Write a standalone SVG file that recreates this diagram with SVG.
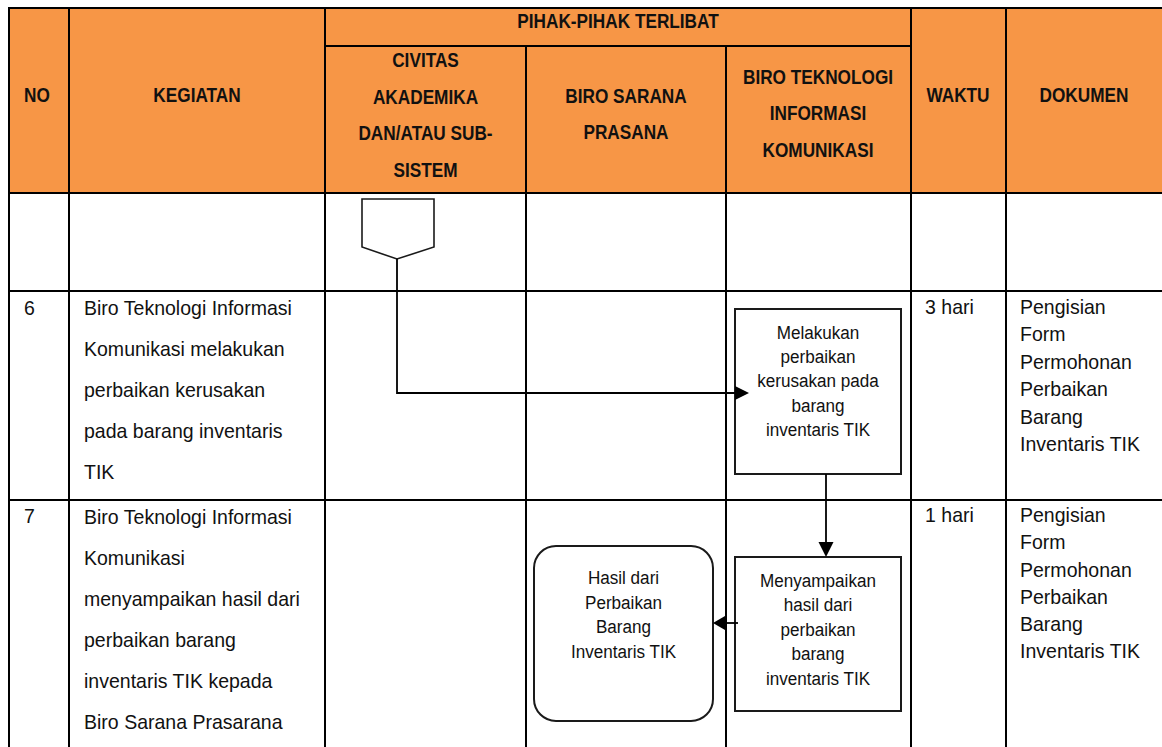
<svg xmlns="http://www.w3.org/2000/svg" width="1162" height="747" viewBox="0 0 1162 747">
<style>
.grid{stroke:#000;stroke-width:2;fill:none}
.hd{font-family:"Liberation Sans",Arial,sans-serif;font-weight:bold;font-size:21px;fill:#111}
.bd{font-family:"Liberation Sans",Arial,sans-serif;font-size:21px;fill:#111}
.nt{font-family:"Liberation Sans",Arial,sans-serif;font-size:19px;fill:#111}
.shape{fill:#fff;stroke:#1a1a1a;stroke-width:2}
.conn{stroke:#000;stroke-width:1.8;fill:none}
.head{fill:#000}
</style>
<rect x="0" y="0" width="1162" height="747" fill="#fff"/>
<g id="table">
<rect x="9" y="8" width="1153" height="185" fill="#F79646"/>
<path class="grid" d="M9 8H1162M325 46H911M9 193H1162M9 291H1162M9 500H1162M9 7V747M69 8V747M325 8V747M911 8V747M1006 8V747M526 46V747M726 46V747"/>
<g class="hd" text-anchor="middle">
<text transform="translate(618,28) scale(0.82,1)">PIHAK-PIHAK TERLIBAT</text>
<text transform="translate(37,102) scale(0.82,1)">NO</text>
<text transform="translate(197,102) scale(0.82,1)">KEGIATAN</text>
<text transform="translate(425.5,67) scale(0.82,1)"><tspan x="0">CIVITAS</tspan><tspan x="0" dy="36.7">AKADEMIKA</tspan><tspan x="0" dy="36.7">DAN/ATAU SUB-</tspan><tspan x="0" dy="36.7">SISTEM</tspan></text>
<text transform="translate(626,103) scale(0.82,1)"><tspan x="0">BIRO SARANA</tspan><tspan x="0" dy="36">PRASANA</tspan></text>
<text transform="translate(818,83.5) scale(0.82,1)"><tspan x="0">BIRO TEKNOLOGI</tspan><tspan x="0" dy="36.7">INFORMASI</tspan><tspan x="0" dy="36.7">KOMUNIKASI</tspan></text>
<text transform="translate(958,102) scale(0.82,1)">WAKTU</text>
<text transform="translate(1084,102) scale(0.82,1)">DOKUMEN</text>
</g>
<g class="bd">
<text transform="translate(24,315) scale(0.93,1)">6</text>
<text transform="translate(84,315) scale(0.93,1)"><tspan x="0">Biro Teknologi Informasi</tspan><tspan x="0" dy="41">Komunikasi melakukan</tspan><tspan x="0" dy="41">perbaikan kerusakan</tspan><tspan x="0" dy="41">pada barang inventaris</tspan><tspan x="0" dy="41">TIK</tspan></text>
<text transform="translate(925,314) scale(0.93,1)">3 hari</text>
<text transform="translate(1020,314) scale(0.93,1)"><tspan x="0">Pengisian</tspan><tspan x="0" dy="27.5">Form</tspan><tspan x="0" dy="27.5">Permohonan</tspan><tspan x="0" dy="27.5">Perbaikan</tspan><tspan x="0" dy="27.5">Barang</tspan><tspan x="0" dy="27.5">Inventaris TIK</tspan></text>
<text transform="translate(24,523) scale(0.93,1)">7</text>
<text transform="translate(84,524) scale(0.93,1)"><tspan x="0">Biro Teknologi Informasi</tspan><tspan x="0" dy="41">Komunikasi</tspan><tspan x="0" dy="41">menyampaikan hasil dari</tspan><tspan x="0" dy="41">perbaikan barang</tspan><tspan x="0" dy="41">inventaris TIK kepada</tspan><tspan x="0" dy="41">Biro Sarana Prasarana</tspan></text>
<text transform="translate(925,522) scale(0.93,1)">1 hari</text>
<text transform="translate(1020,522) scale(0.93,1)"><tspan x="0">Pengisian</tspan><tspan x="0" dy="27.3">Form</tspan><tspan x="0" dy="27.3">Permohonan</tspan><tspan x="0" dy="27.3">Perbaikan</tspan><tspan x="0" dy="27.3">Barang</tspan><tspan x="0" dy="27.3">Inventaris TIK</tspan></text>
</g>
</g>
<g id="offpage">
<polygon class="shape" style="stroke-width:1.6" points="362,199 434,199 434,247 397,259 362,247"/>
</g>
<g id="box-perbaikan">
<rect class="shape" x="735" y="309" width="166" height="165"/>
<text class="nt" text-anchor="middle" transform="translate(818,338.5) scale(0.9,1)"><tspan x="0">Melakukan</tspan><tspan x="0" dy="24.4">perbaikan</tspan><tspan x="0" dy="24.4">kerusakan pada</tspan><tspan x="0" dy="24.4">barang</tspan><tspan x="0" dy="24.4">inventaris TIK</tspan></text>
</g>
<g id="box-menyampaikan">
<rect class="shape" x="735" y="557" width="166" height="154"/>
<text class="nt" text-anchor="middle" transform="translate(818,587) scale(0.9,1)"><tspan x="0">Menyampaikan</tspan><tspan x="0" dy="24.5">hasil dari</tspan><tspan x="0" dy="24.5">perbaikan</tspan><tspan x="0" dy="24.5">barang</tspan><tspan x="0" dy="24.5">inventaris TIK</tspan></text>
</g>
<g id="hasil">
<rect class="shape" x="534" y="546" width="179" height="175" rx="22" ry="22"/>
<text class="nt" text-anchor="middle" transform="translate(623.5,584) scale(0.9,1)"><tspan x="0">Hasil dari</tspan><tspan x="0" dy="24.6">Perbaikan</tspan><tspan x="0" dy="24.6">Barang</tspan><tspan x="0" dy="24.6">Inventaris TIK</tspan></text>
</g>
<g id="connectors">
<path class="conn" d="M397 259V393H736"/>
<polygon class="head" points="735,386 749,393 735,400"/>
<path class="conn" d="M826 474V543"/>
<polygon class="head" points="818.5,542 833.5,542 826,557"/>
<path class="conn" d="M738 623H724"/>
<polygon class="head" points="725,616 725,630 713,623"/>
</g>
</svg>
